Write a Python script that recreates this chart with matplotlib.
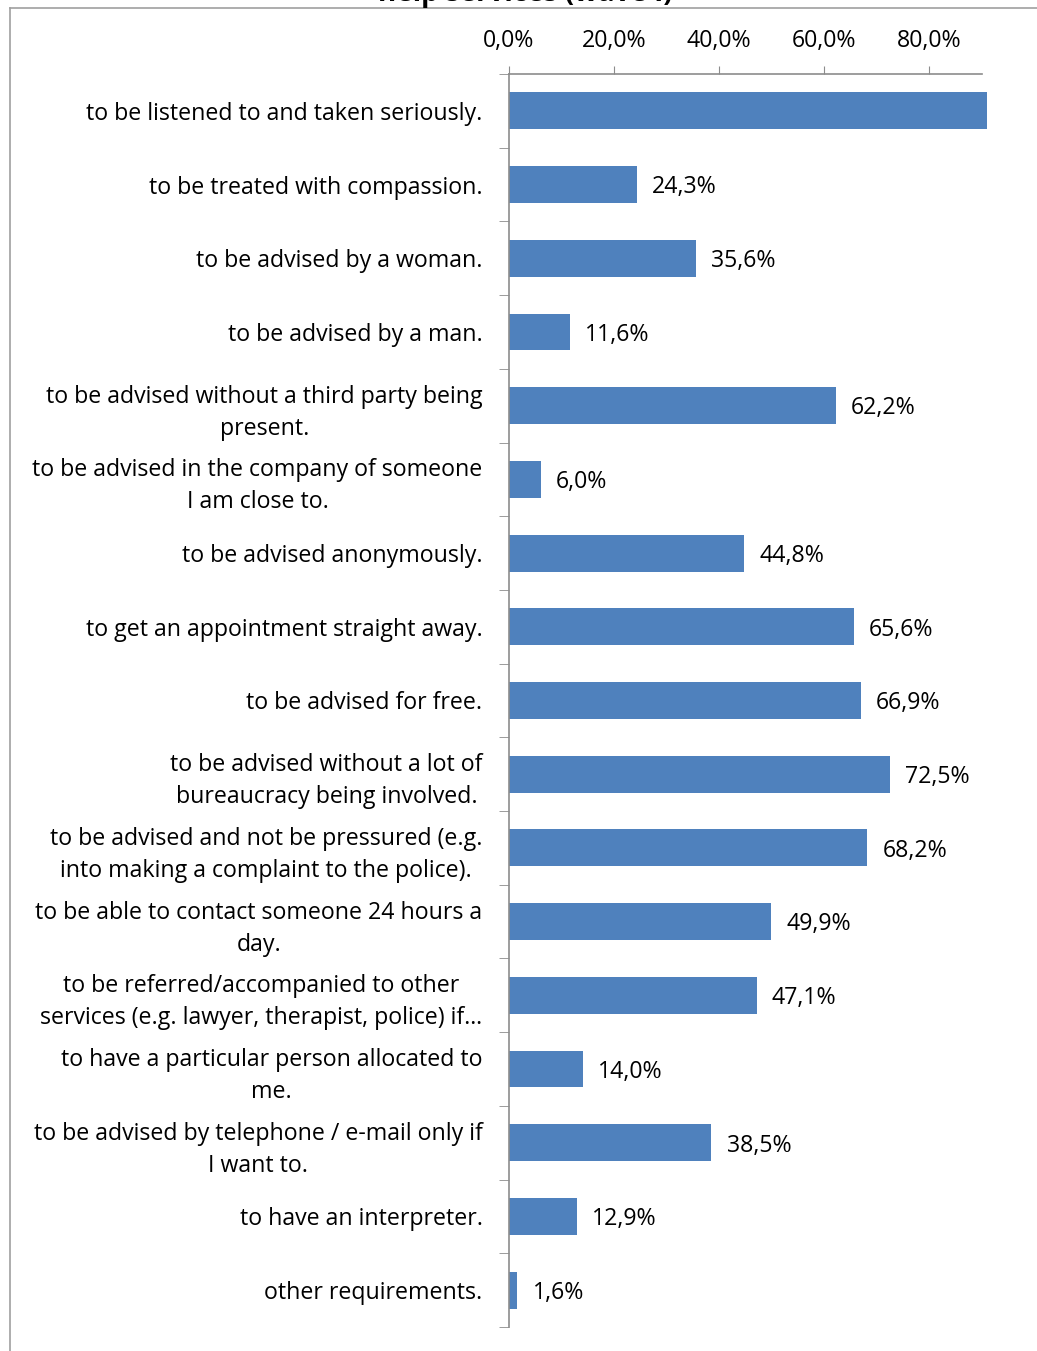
import numpy as np
import matplotlib.pyplot as plt
from matplotlib.lines import Line2D
from matplotlib.ticker import FixedLocator

# ── Datos ────────────────────────────────────────────────────────────────────
categorias = [
    "to be listened to and taken seriously.",
    "to be treated with compassion.",
    "to be advised by a woman.",
    "to be advised by a man.",
    "to be advised without a third party being\npresent.",
    "to be advised in the company of someone\nI am close to.",
    "to be advised anonymously.",
    "to get an appointment straight away.",
    "to be advised for free.",
    "to be advised without a lot of\nbureaucracy being involved.",
    "to be advised and not be pressured (e.g.\ninto making a complaint to the police).",
    "to be able to contact someone 24 hours a\nday.",
    "to be referred/accompanied to other\nservices (e.g. lawyer, therapist, police) if…",
    "to have a particular person allocated to\nme.",
    "to be advised by telephone / e-mail only if\nI want to.",
    "to have an interpreter.",
    "other requirements.",
]
valores = [90.9, 24.3, 35.6, 11.6, 62.2, 6.0, 44.8, 65.6, 66.9, 72.5,
           68.2, 49.9, 47.1, 14.0, 38.5, 12.9, 1.6]
# la primera barra sale del eje y no lleva etiqueta
con_etiqueta = [False] + [True] * 16
ticks_x = [0, 20, 40, 60, 80]

AZUL = "#4F81BD"
GRIS = "#8C8C8C"
FUENTE = "Open Sans"
TAM = 16.7

plt.rcParams["font.family"] = [FUENTE, "DejaVu Sans"]

fig = plt.figure(figsize=(10.37, 13.51), dpi=100)
ax = fig.add_axes([509 / 1037, 1 - 1327 / 1351, (982 - 509) / 1037, (1327 - 74) / 1351])

n = len(categorias)
y = np.arange(n)
ax.barh(y, valores, height=0.5, color=AZUL, clip_on=False, zorder=2)

for yi, v, lab in zip(y, valores, con_etiqueta):
    if lab:
        ax.annotate(f"{v:.1f}%".replace(".", ","), xy=(v, yi), xytext=(11, -2),
                    textcoords="offset points", va="center", ha="left",
                    fontsize=TAM)

ax.set_xlim(0, 90)
ax.set_ylim(n - 0.5, -0.5)

# eje x arriba
ax.xaxis.tick_top()
ax.set_xticks(ticks_x)
ax.set_xticklabels([f"{t:.1f}%".replace(".", ",") for t in ticks_x], fontsize=TAM)
ax.tick_params(axis="x", direction="out", length=6, color=GRIS, pad=9)

# eje y: marcas entre categorías, etiquetas centradas
ax.set_yticks(y)
ax.set_yticklabels(categorias, fontsize=TAM, multialignment="center",
                   linespacing=1.45)
ax.yaxis.set_minor_locator(FixedLocator(np.arange(-0.5, n, 1.0)))
ax.tick_params(axis="y", which="major", length=0, pad=19)
ax.tick_params(axis="y", which="minor", length=7, color=GRIS, direction="out")

for s in ("right", "bottom"):
    ax.spines[s].set_visible(False)
for s in ("left", "top"):
    ax.spines[s].set_color(GRIS)
    ax.spines[s].set_linewidth(1.2)

# marco del gráfico y título (queda cortado por arriba)
fig.add_artist(Line2D([10 / 1037, 10 / 1037], [0, 1 - 8 / 1351],
                      transform=fig.transFigure, color="#A0A0A0", lw=1.2))
fig.add_artist(Line2D([10 / 1037, 1], [1 - 8 / 1351, 1 - 8 / 1351],
                      transform=fig.transFigure, color="#A0A0A0", lw=1.2))
fig.text(525 / 1037, 1 + 6 / 1351, "help services (wave I)", ha="center",
         va="center", fontsize=20, fontweight="bold")

fig.savefig("out.png", dpi=100)
